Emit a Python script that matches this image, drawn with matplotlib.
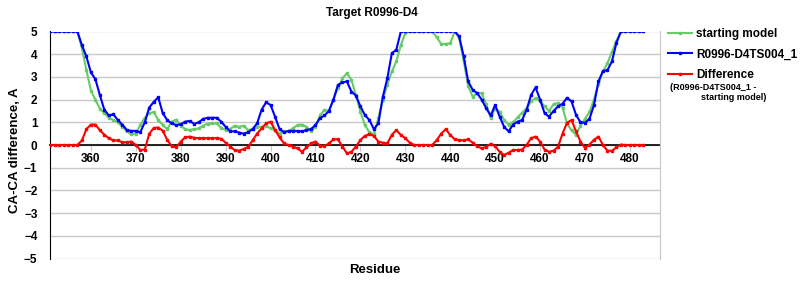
import numpy as np
import matplotlib
matplotlib.use("Agg")
import matplotlib.pyplot as plt

plt.rcParams['font.family'] = ['Liberation Sans', 'DejaVu Sans']

# residue numbers 351..483
residues = list(range(351, 484))

model_ts004 = [
    5, 5, 5, 5, 5, 5, 5, 4.4, 3.9,                                   # 351-359
    3.2, 2.9, 2.2, 1.55, 1.3, 1.35, 1.1, 0.9, 0.66, 0.62,             # 360-369
    0.62, 0.56, 1.0, 1.65, 1.9, 2.1, 1.4, 1.1, 0.95, 0.88,            # 370-379
    0.91, 1.03, 1.06, 0.93, 1.0, 1.15, 1.2, 1.2, 1.2, 1.03,           # 380-389
    0.8, 0.6, 0.6, 0.55, 0.5, 0.56, 0.7, 0.95, 1.55, 1.88,            # 390-399
    1.76, 1.25, 0.7, 0.56, 0.62, 0.62, 0.62, 0.6, 0.66, 0.7,          # 400-409
    0.88, 1.18, 1.3, 1.5, 2.0, 2.65, 2.76, 2.8, 2.35, 2.18,           # 410-419
    1.7, 1.32, 1.1, 0.7, 0.95, 2.13, 2.94, 4.04, 4.2, 5,              # 420-429
    5, 5, 5, 5, 5, 5, 5, 5, 5, 5,                                     # 430-439
    5, 5, 4.78, 3.9, 2.8, 2.43, 2.28, 2.0, 1.62, 1.3,                 # 440-449
    1.76, 1.25, 0.8, 0.6, 0.9, 1.03, 1.1, 1.55, 2.2, 2.54,            # 450-459
    2.0, 1.4, 1.25, 1.5, 1.7, 1.82, 2.08, 1.92, 1.33, 1.0,            # 460-469
    0.98, 1.15, 1.76, 2.8, 3.26, 3.3, 3.68, 4.5, 5, 5,                # 470-479
    5, 5, 5, 5,                                                       # 480-483
]

starting_model = [
    5, 5, 5, 5, 5, 5, 5, 4.26, 3.3,                                   # 351-359
    2.4, 2.0, 1.6, 1.4, 1.2, 1.1, 1.0, 0.8, 0.6, 0.47,                # 360-369
    0.5, 0.88, 1.2, 1.4, 1.45, 1.1, 0.88, 0.7, 1.03, 1.12,            # 370-379
    0.85, 0.7, 0.66, 0.7, 0.73, 0.85, 0.94, 0.95, 0.95, 0.76,         # 380-389
    0.66, 0.7, 0.85, 0.8, 0.85, 0.66, 0.7, 0.8, 0.8, 0.85,            # 390-399
    0.73, 0.66, 0.5, 0.6, 0.6, 0.73, 0.88, 0.9, 0.8, 0.6,             # 400-409
    0.8, 1.3, 1.55, 1.5, 2.0, 2.5, 2.94, 3.16, 2.87, 2.2,             # 410-419
    1.47, 0.88, 0.56, 0.47, 1.18, 2.0, 2.65, 3.24, 3.68, 4.4,         # 420-429
    4.93, 5, 5, 5, 5, 5, 5, 4.75, 4.45, 4.45,                         # 430-439
    4.48, 5, 4.72, 3.7, 2.6, 2.13, 2.28, 2.28, 1.8, 1.2,              # 440-449
    1.6, 1.47, 1.1, 0.9, 1.0, 1.22, 1.42, 1.62, 1.92, 2.07,           # 450-459
    1.95, 1.7, 1.5, 1.8, 1.85, 1.65, 0.95, 0.64, 0.45, 0.85,          # 460-469
    1.15, 1.45, 2.0, 2.7, 3.24, 3.6, 4.1, 4.58, 5, 5,                 # 470-479
    5, 5, 5, 5,                                                       # 480-483
]

difference = [
    0, 0, 0, 0, 0, 0, 0, 0.2, 0.7,                                    # 351-359
    0.9, 0.9, 0.65, 0.45, 0.3, 0.2, 0.2, 0.12, 0.12, 0.15,            # 360-369
    0.0, -0.22, -0.2, 0.5, 0.75, 0.77, 0.63, 0.22, -0.05, -0.1,       # 370-379
    0.15, 0.34, 0.37, 0.32, 0.3, 0.3, 0.3, 0.3, 0.3, 0.28,            # 380-389
    0.1, -0.07, -0.22, -0.25, -0.18, -0.08, 0.2, 0.5, 0.73, 0.95,     # 390-399
    1.03, 0.66, 0.34, 0.07, 0.0, -0.07, -0.15, -0.3, -0.1, 0.07,      # 400-409
    0.15, -0.03, -0.05, 0.07, 0.25, 0.25, -0.07, -0.37, -0.3, -0.07,  # 410-419
    0.22, 0.4, 0.48, 0.4, 0.15, 0.1, 0.07, 0.45, 0.66, 0.44,          # 420-429
    0.3, 0.1, 0, 0, 0, 0, 0, 0.22, 0.5, 0.7,                          # 430-439
    0.44, 0.25, 0.22, 0.2, 0.25, 0.1, -0.05, -0.15, -0.08, 0.05,      # 440-449
    -0.05, -0.3, -0.44, -0.34, -0.22, -0.22, -0.2, 0.0, 0.3, 0.37,    # 450-459
    0.15, -0.2, -0.3, -0.25, -0.08, 0.5, 0.98, 1.1, 0.6, 0.15,        # 460-469
    -0.13, 0.02, 0.23, 0.37, 0.0, -0.25, -0.26, -0.1, 0.02, 0,        # 470-479
    0, 0, 0, 0,                                                       # 480-483
]

x_ticks = [360, 370, 380, 390, 400, 410, 420, 430, 440, 450, 460, 470, 480]
y_ticks = [5, 4, 3, 2, 1, 0, -1, -2, -3, -4, -5]

fig = plt.figure(figsize=(8, 3), dpi=100)
ax = fig.add_axes([50/800, 1-258.5/300, 610/800, 227/300])

l1, = ax.plot(residues, starting_model, color='#66cc66', lw=1.5,
              marker='s', ms=1.5, zorder=3)
l2, = ax.plot(residues, model_ts004, color='#0000ff', lw=1.5,
              marker='s', ms=1.5, zorder=4)
l3, = ax.plot(residues, difference, color='#ff0000', lw=1.5,
              marker='s', ms=1.5, zorder=5)

ax.set_xlim(350.9, 486.7)
ax.set_ylim(-5, 5)
ax.set_yticks(y_ticks)
ax.set_xticks(x_ticks)
ax.grid(axis='y', color='#c8c8c8', lw=1)
ax.set_axisbelow(True)

ax.spines['bottom'].set_position(('data', 0))
ax.spines['bottom'].set_color('black')
ax.spines['bottom'].set_linewidth(1.2)
ax.spines['bottom'].set_zorder(2)
ax.spines['top'].set_visible(False)
ax.spines['right'].set_color('#c8c8c8')
ax.spines['left'].set_color('black')

ax.tick_params(axis='x', length=4, color='#c8c8c8', pad=2, labelsize=8.5)
ax.tick_params(axis='y', length=0, pad=9, labelsize=8.5)
for lab in ax.get_xticklabels() + ax.get_yticklabels():
    lab.set_fontweight('bold')

fig.text(372/800, 1-13/300, 'Target R0996-D4', ha='center', va='center',
         fontsize=8.5, fontweight='bold')
fig.text(375/800, 1-270/300, 'Residue', ha='center', va='center',
         fontsize=9.5, fontweight='bold')
fig.text(15/800, 1-150/300, 'CA-CA difference, A', ha='center', va='center',
         rotation=90, fontsize=9.5, fontweight='bold')

leg = fig.legend([l1, l2, l3], ['starting model', 'R0996-D4TS004_1', 'Difference'],
                 loc='upper left', bbox_to_anchor=(668/800, 1-28/300),
                 frameon=False, handlelength=2.0, handletextpad=0.4,
                 labelspacing=0.72, borderpad=0, borderaxespad=0,
                 prop={'size': 8.5, 'weight': 'bold'})
fig.text(670/800, 1-88/300, '(R0996-D4TS004_1 -', ha='left', va='center',
         fontsize=6.5, fontweight='bold')
fig.text(701/800, 1-98/300, 'starting model)', ha='left', va='center',
         fontsize=6.5, fontweight='bold')

fig.savefig('out.png', dpi=100)
